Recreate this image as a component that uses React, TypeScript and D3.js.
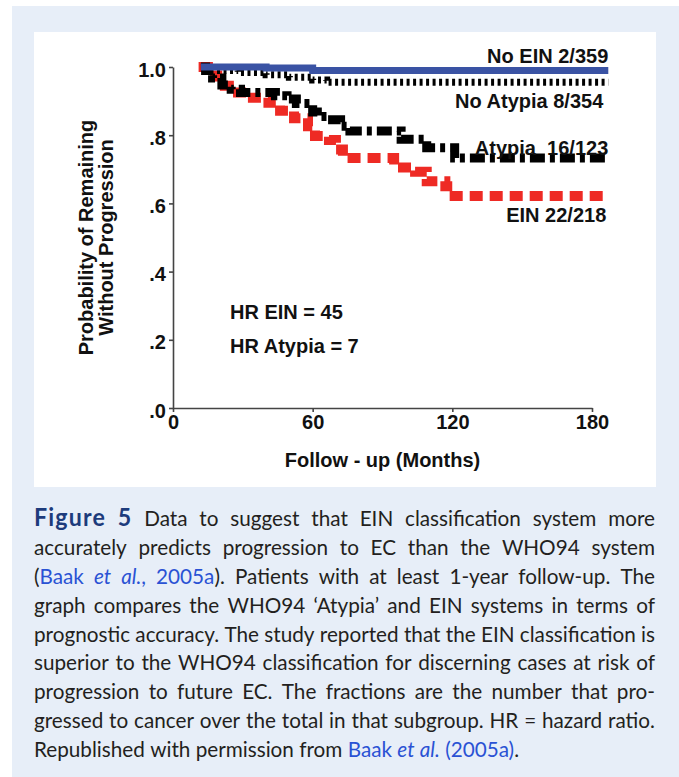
import * as d3 from "d3"
import { useRef, useEffect } from "react"

// ---- data ----
const xTicks = [0, 60, 120, 180]
const yTicks = [0, 0.2, 0.4, 0.6, 0.8, 1.0]

const noEinMonths = [12, 40, 60, 187]
const noEinSurv = [1.0, 0.997, 0.99, 0.99]

const noAtypiaMonths = [12, 14, 28, 40, 50, 60, 66, 187]
const noAtypiaSurv = [1.0, 0.99, 0.984, 0.977, 0.97, 0.962, 0.955, 0.955]

const atypiaMonths = [12, 14, 17, 21, 25, 29, 44, 49, 53, 60, 62, 66, 72, 76, 98, 109, 121, 187]
const atypiaSurv = [1.0, 0.99, 0.968, 0.947, 0.935, 0.925, 0.916, 0.906, 0.893, 0.868, 0.855, 0.845, 0.826, 0.812, 0.788, 0.763, 0.733, 0.733]

const einMonths = [11, 15, 19, 24, 32, 41, 46, 52, 58, 61, 67, 70, 73, 95, 104, 109, 117, 121, 187]
const einSurv = [1.0, 0.975, 0.945, 0.925, 0.91, 0.895, 0.872, 0.85, 0.826, 0.798, 0.786, 0.758, 0.733, 0.705, 0.693, 0.665, 0.65, 0.622, 0.622]

const seriesLabels = ["No EIN 2/359", "No Atypia 8/354", "Atypia  16/123", "EIN 22/218"]
const hrLabels = ["HR EIN = 45", "HR Atypia = 7"]

// caption, one entry per printed line; s = style of the run
const captionLines = [
  [{ t: "Figure 5", s: "fig" }, { t: " Data to suggest that EIN classification system more" }],
  [{ t: "accurately predicts progression to EC than the WHO94 system" }],
  [{ t: "(" }, { t: "Baak ", s: "link" }, { t: "et al.", s: "linkI" }, { t: ", 2005a", s: "link" }, { t: "). Patients with at least 1-year follow-up. The" }],
  [{ t: "graph compares the WHO94 \u2018Atypia\u2019 and EIN systems in terms of" }],
  [{ t: "prognostic accuracy. The study reported that the EIN classification is" }],
  [{ t: "superior to the WHO94 classification for discerning cases at risk of" }],
  [{ t: "progression to future EC. The fractions are the number that pro-" }],
  [{ t: "gressed to cancer over the total in that subgroup. HR = hazard ratio." }],
  [{ t: "Republished with permission from " }, { t: "Baak ", s: "link" }, { t: "et al.", s: "linkI" }, { t: " (2005a)", s: "link" }, { t: "." }],
]

const W = 679
const H = 777
const AXIS_FONT = "'Liberation Sans', Arial, sans-serif"
const CAP_FONT = "Lato, 'Open Sans', sans-serif"
const CAP_SIZE = 21.5

const styleOf = (s, fs) => {
  if (s === "fig") return { weight: "bold", italic: false, size: fs * 1.12, fill: "#1d3b7c", ls: 1.2 }
  if (s === "link") return { weight: "normal", italic: false, size: fs, fill: "#2a52d4", ls: 0 }
  if (s === "linkI") return { weight: "normal", italic: true, size: fs, fill: "#2a52d4", ls: 0 }
  return { weight: "normal", italic: false, size: fs, fill: "#231f20", ls: 0 }
}

const ctx = document.createElement("canvas").getContext("2d")
function measure(text, st) {
  ctx.font = `${st.italic ? "italic " : ""}${st.weight} ${st.size}px ${CAP_FONT}`
  return ctx.measureText(text).width + st.ls * text.length
}

function splitWords(line) {
  const words = []
  let cur = []
  line.forEach(run => {
    run.t.split(/( +)/).forEach(part => {
      if (part === "") return
      if (/^ +$/.test(part)) {
        if (cur.length) words.push(cur)
        cur = []
      } else cur.push({ t: part, s: run.s })
    })
  })
  if (cur.length) words.push(cur)
  return words
}

function Caption({ x, y0, width, lineH }) {
  const fs = CAP_SIZE
  const space = measure(" ", styleOf(undefined, fs))
  // horizontal squeeze so the widest line fits at normal word spacing (the original face is narrow)
  let maxW = 0
  captionLines.forEach(l => {
    const words = splitWords(l)
    let w = 0
    words.forEach(wd => wd.forEach(p => (w += measure(p.t, styleOf(p.s, fs)))))
    w += (words.length - 1) * space
    maxW = Math.max(maxW, w)
  })
  const k = Math.min(1, width / maxW)
  const target = width / k

  return (
    <g transform={`translate(${x},0) scale(${k},1)`}>
      {captionLines.map((line, i) => {
        const words = splitWords(line)
        const widths = words.map(wd => wd.reduce((a, p) => a + measure(p.t, styleOf(p.s, fs)), 0))
        const total = d3.sum(widths)
        const last = i === captionLines.length - 1
        const gap = last ? space : (target - total) / (words.length - 1)
        let cx = 0
        const pieces = []
        words.forEach((wd, j) => {
          let px = cx
          wd.forEach((p, kk) => {
            const st = styleOf(p.s, fs)
            pieces.push(
              <tspan key={j + "-" + kk} x={px} fill={st.fill} fontWeight={st.weight}
                fontStyle={st.italic ? "italic" : "normal"} fontSize={st.size} letterSpacing={st.ls}>
                {p.t}
              </tspan>
            )
            px += measure(p.t, st)
          })
          cx += widths[j] + gap
        })
        return (
          <text key={i} y={y0 + i * lineH} fontFamily={CAP_FONT} fontSize={fs}>
            {pieces}
          </text>
        )
      })}
    </g>
  )
}

function KMChart() {
  const x = d3.scaleLinear().domain([0, 180]).range([173, 592])
  const y = d3.scaleLinear().domain([0, 1]).range([408, 67])

  const xAxisRef = useRef(null)
  const yAxisRef = useRef(null)

  useEffect(() => {
    const xa = d3.axisBottom(x).tickValues(xTicks).tickSize(4).tickSizeOuter(0).tickPadding(3)
    const ya = d3.axisLeft(y).tickValues(yTicks).tickSize(4).tickSizeOuter(0).tickPadding(3)
      .tickFormat(v => (v === 1 ? "1.0" : d3.format(".1f")(v).replace(/^0/, "")))
    const gx = d3.select(xAxisRef.current).call(xa)
    const gy = d3.select(yAxisRef.current).call(ya)
    ;[gx, gy].forEach(g => {
      g.select(".domain").attr("stroke", "#444").attr("stroke-width", 1.6)
      g.selectAll(".tick line").attr("stroke", "#444").attr("stroke-width", 1.6)
      g.selectAll(".tick text").attr("fill", "#111").attr("font-size", 20)
        .attr("font-weight", "bold").attr("font-family", AXIS_FONT)
    })
    gy.selectAll(".tick text").attr("dy", "0.45em")
  }, [])

  const line = d3.line().x(d => x(d[0])).y(d => y(d[1])).curve(d3.curveStepAfter)
  const pts = (m, s) => m.map((v, i) => [v, s[i]])

  const xEnd = x(187)

  return (
    <g>
      <path d={line(pts(einMonths, einSurv))} fill="none" stroke="#ee2a24" strokeWidth={10} strokeDasharray="13,7" />
      <path d={line(pts(atypiaMonths, atypiaSurv))} fill="none" stroke="#000" strokeWidth={9} strokeDasharray="15,5,5,5" />
      <path d={line(pts(noAtypiaMonths, noAtypiaSurv))} fill="none" stroke="#000" strokeWidth={7} strokeDasharray="3,3.5" />
      <path d={line(pts(noEinMonths, noEinSurv))} fill="none" stroke="#3a53a4" strokeWidth={7} />

      <g ref={xAxisRef} transform={`translate(0,${y(0)})`} />
      <g ref={yAxisRef} transform={`translate(${x(0)},0)`} />

      <g fontFamily={AXIS_FONT} fontWeight="bold" fontSize={20} fill="#111" textAnchor="end">
        <text x={xEnd} y={y(1) - 4}>{seriesLabels[0]}</text>
        <text x={xEnd - 5} y={y(1) + 41}>{seriesLabels[1]}</text>
        <text x={xEnd} y={y(1) + 88} style={{ whiteSpace: "pre" }}>{seriesLabels[2]}</text>
        <text x={xEnd - 2} y={y(1) + 155}>{seriesLabels[3]}</text>
      </g>

      <g fontFamily={AXIS_FONT} fontWeight="bold" fontSize={20} fill="#111">
        <text x={230} y={319}>{hrLabels[0]}</text>
        <text x={230} y={353}>{hrLabels[1]}</text>
      </g>

      <text x={(x(0) + x(180)) / 2} y={467} textAnchor="middle" fontFamily={AXIS_FONT}
        fontWeight="bold" fontSize={20} fill="#111" style={{ whiteSpace: "pre" }}>
        Follow - up (Months)
      </text>
      <g fontFamily={AXIS_FONT} fontWeight="bold" fontSize={20} fill="#111" textAnchor="middle">
        <text transform={`translate(93,${(y(0) + y(1)) / 2}) rotate(-90)`}>Probability of Remaining</text>
        <text transform={`translate(113,${(y(0) + y(1)) / 2}) rotate(-90)`}>Without Progression</text>
      </g>
    </g>
  )
}

export default function App() {
  return (
    <svg width={W} height={H} style={{ position: "absolute", left: 0, top: 0, background: "#fff" }}>
      <rect x={12} y={6} width={W - 12} height={H - 6} fill="#e7eef8" />
      <rect x={34} y={32} width={622} height={455} fill="#fff" />
      <KMChart />
      <Caption x={34} y0={526} width={621} lineH={28.9} />
    </svg>
  )
}
